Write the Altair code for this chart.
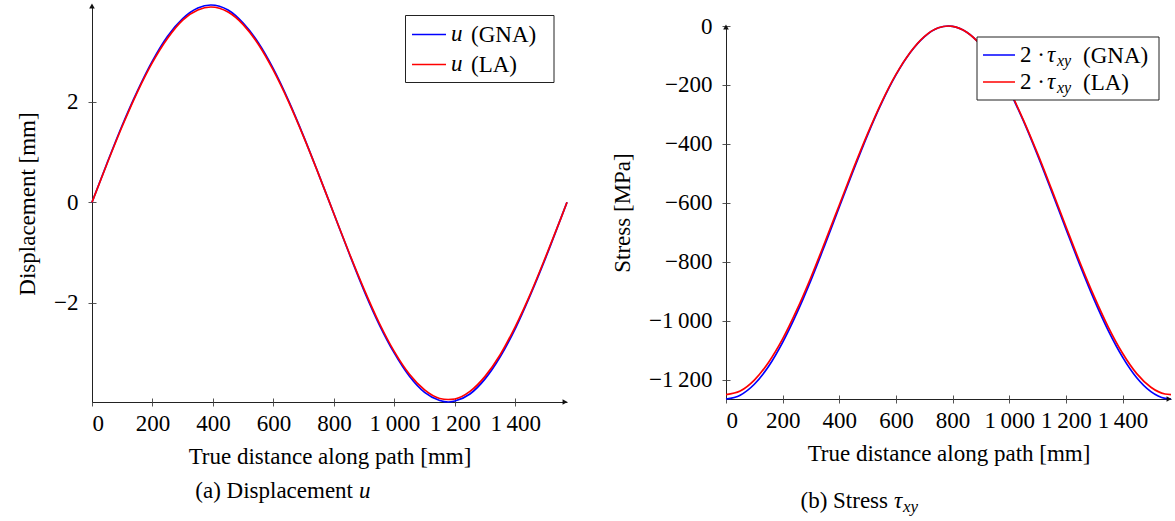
import altair as alt
import pandas as pd

# ---------------------------------------------------------------------------
# Data: displacement u and shear stress 2*tau_xy along the path
# ---------------------------------------------------------------------------
u_dist = [0, 50, 100, 150, 200, 250, 300, 350, 393, 450, 500, 550, 600, 650,
          700, 750, 800, 850, 900, 950, 1000, 1050, 1100, 1150, 1178, 1200,
          1250, 1300, 1350, 1400, 1450, 1500, 1550, 1571]
u_gna = [0.00, 0.78, 1.53, 2.21, 2.81, 3.30, 3.65, 3.86, 3.92, 3.82, 3.56,
         3.17, 2.65, 2.02, 1.31, 0.55, -0.23, -1.01, -1.76, -2.43, -3.00,
         -3.46, -3.78, -3.94, -3.97, -3.95, -3.81, -3.51, -3.07, -2.51,
         -1.84, -1.11, -0.33, 0.00]
u_la = [0.00, 0.77, 1.51, 2.19, 2.78, 3.26, 3.62, 3.82, 3.88, 3.78, 3.53,
        3.14, 2.62, 2.00, 1.30, 0.55, -0.23, -1.00, -1.73, -2.40, -2.97,
        -3.42, -3.73, -3.90, -3.92, -3.91, -3.76, -3.46, -3.03, -2.47,
        -1.82, -1.09, -0.33, 0.00]

tau_dist = [0, 50, 100, 150, 200, 250, 300, 350, 400, 450, 500, 550, 600,
            650, 700, 750, 785, 800, 850, 900, 950, 1000, 1050, 1100, 1150,
            1200, 1250, 1300, 1350, 1400, 1450, 1500, 1550, 1571]
tau_gna = [-1265, -1252, -1215, -1155, -1073, -974, -862, -740, -614, -489,
           -369, -260, -166, -91, -37, -6, 0, -1, -21, -65, -132, -219, -322,
           -438, -562, -688, -812, -929, -1034, -1123, -1193, -1240, -1263,
           -1265]
tau_la = [-1250, -1238, -1201, -1141, -1061, -963, -852, -731, -607, -483,
          -365, -257, -164, -90, -36, -6, 0, -1, -21, -65, -131, -216, -319,
          -433, -555, -680, -803, -918, -1022, -1110, -1179, -1225, -1248,
          -1250]

x_ticks = [0, 200, 400, 600, 800, 1000, 1200, 1400]
u_ticks = [-2, 0, 2]
tau_ticks = [0, -200, -400, -600, -800, -1000, -1200]

BLUE = "#0000ff"
RED = "#ff0000"
SERIF = "Liberation Serif"
FS = 23
AXIS_COLOR = "#222222"
TICK_COLOR = "#555555"
LABEL_EXPR = "replace(format(datum.value, ','), ',', '\u2009')"

# panel geometry (plot areas)
W1, H1 = 475, 397
W2 = 445
R_TOP, R_BOT = 21, 394   # vertical extent of the stress axis inside its panel

one = pd.DataFrame({"k": [0]})


def frame(df_x, df_y):
    return pd.DataFrame({"dist": df_x, "val": df_y})


def main_x_axis(title, offset=0):
    return alt.Axis(values=x_ticks, title=title, labelExpr=LABEL_EXPR,
                    tickSize=4, labelPadding=6, titlePadding=10,
                    offset=offset, grid=False)


def main_y_axis(values, title):
    return alt.Axis(values=values, title=title, labelExpr=LABEL_EXPR,
                    tickSize=4, labelPadding=10, titlePadding=14, grid=False)


def inner_x_axis(pos):
    # second set of ticks pointing into the plot, so ticks cross the axis line
    return alt.Axis(orient="top", offset=-pos, values=x_ticks, labels=False,
                    domain=False, title=None, tickSize=4, grid=False)


def inner_y_axis(values, width):
    return alt.Axis(orient="right", offset=-width, values=values, labels=False,
                    domain=False, title=None, tickSize=4, grid=False)


def text(label, x, y, size=FS, style="normal", align="left"):
    return alt.Chart(one).mark_text(
        text=label, font=SERIF, fontSize=size, fontStyle=style, align=align,
        baseline="alphabetic", color="black"
    ).encode(x=alt.value(x), y=alt.value(y))


def rule(x, x2, y, y2, color, width=1.0):
    return alt.Chart(one).mark_rule(color=color, strokeWidth=width).encode(
        x=alt.value(x), x2=alt.value(x2), y=alt.value(y), y2=alt.value(y2))


def arrow(shape, x, y):
    return alt.Chart(one).mark_point(
        shape=shape, filled=True, color="#111111", size=32, opacity=1
    ).encode(x=alt.value(x), y=alt.value(y))


def box(x, x2, y, y2):
    return alt.Chart(one).mark_rect(
        fill="white", stroke="#222222", strokeWidth=1
    ).encode(x=alt.value(x), x2=alt.value(x2), y=alt.value(y), y2=alt.value(y2))


def spacer(x, x2, y, y2):
    return alt.Chart(one).mark_rect(opacity=0).encode(
        x=alt.value(x), x2=alt.value(x2), y=alt.value(y), y2=alt.value(y2))


# ---------------------------------------------------------------------------
# (a) Displacement u
# ---------------------------------------------------------------------------
xs1 = alt.Scale(domain=[0, 1571], nice=False, zero=False)
ys1 = alt.Scale(domain=[-3.97, 3.92], nice=False, zero=False)

u_gna_line = alt.Chart(frame(u_dist, u_gna)).mark_line(
    color=BLUE, strokeWidth=1.7, interpolate="monotone"
).encode(
    x=alt.X("dist:Q", scale=xs1, axis=main_x_axis("True distance along path [mm]")),
    y=alt.Y("val:Q", scale=ys1, axis=main_y_axis(u_ticks, "Displacement [mm]")),
)
u_la_line = alt.Chart(frame(u_dist, u_la)).mark_line(
    color=RED, strokeWidth=1.7, interpolate="monotone"
).encode(
    x=alt.X("dist:Q", scale=xs1, axis=inner_x_axis(H1)),
    y=alt.Y("val:Q", scale=ys1, axis=inner_y_axis(u_ticks, W1)),
)

# legend of panel (a)
lg1 = [
    box(313.5, 462, 10.5, 77.5),
    rule(320, 354, 29.5, 29.5, BLUE, 1.5),
    rule(320, 354, 59.5, 59.5, RED, 1.5),
    text("u", 359, 36, style="italic"),
    text("(GNA)", 379, 37),
    text("u", 359, 66, style="italic"),
    text("(LA)", 379, 67),
]

panel_a = alt.layer(
    spacer(-92, -91, -5, 516),
    u_gna_line, u_la_line,
    arrow("triangle-up", 0, 1),
    arrow("triangle-right", W1 - 2, H1),
    *lg1,
    text("(a) Displacement", 261, 493, align="right"),
    text("u", 267, 493, style="italic"),
).resolve_axis(x="independent", y="independent").properties(width=W1, height=H1)

# ---------------------------------------------------------------------------
# (b) Stress tau_xy
# ---------------------------------------------------------------------------
xs2 = alt.Scale(domain=[0, 1571], nice=False, zero=False)
ys2 = alt.Scale(domain=[-1265, 0], nice=False, zero=False, range=[R_BOT, R_TOP])

tau_gna_line = alt.Chart(frame(tau_dist, tau_gna)).mark_line(
    color=BLUE, strokeWidth=1.7, interpolate="monotone"
).encode(
    x=alt.X("dist:Q", scale=xs2,
            axis=main_x_axis("True distance along path [mm]", offset=R_BOT - H1)),
    y=alt.Y("val:Q", scale=ys2, axis=main_y_axis(tau_ticks, "Stress [MPa]")),
)
tau_la_line = alt.Chart(frame(tau_dist, tau_la)).mark_line(
    color=RED, strokeWidth=1.7, interpolate="monotone"
).encode(
    x=alt.X("dist:Q", scale=xs2, axis=inner_x_axis(R_BOT)),
    y=alt.Y("val:Q", scale=ys2, axis=inner_y_axis(tau_ticks, W2)),
)

# legend of panel (b): 2 · τ_xy
lg2 = [box(251, 433, 32, 95)]
for row_y, color, tag in [(50, BLUE, "(GNA)"), (77, RED, "(LA)")]:
    lg2 += [
        rule(257, 289, row_y, row_y, color, 1.5),
        text("2 \u00b7", 294, row_y + 7),
        text("\u03c4", 321, row_y + 7, style="italic"),
        text("xy", 331, row_y + 11, size=16, style="italic"),
        text(tag, 357, row_y + 8),
    ]

panel_b = alt.layer(
    tau_gna_line, tau_la_line,
    arrow("triangle-up", 0, R_TOP + 1),
    arrow("triangle-right", W2 - 2, R_BOT),
    *lg2,
    text("(b) Stress", 162, 503, align="right"),
    text("\u03c4", 168, 503, style="italic"),
    text("xy", 177, 507, size=17, style="italic"),
    spacer(W2 + 3, W2 + 4, 0, 1),
).resolve_axis(x="independent", y="independent").properties(width=W2, height=H1)

chart = alt.hconcat(panel_a, panel_b, spacing=159, bounds="flush").configure(
    padding={"left": 0, "top": 0, "right": 0, "bottom": 0},
    background="white",
).configure_view(stroke=None).configure_axis(
    labelFont=SERIF, labelFontSize=FS, labelColor="black",
    titleFont=SERIF, titleFontSize=FS, titleColor="black", titleFontWeight="normal",
    domainColor=AXIS_COLOR, domainWidth=1, tickColor=TICK_COLOR, tickWidth=1,
)

chart.save("out.html", embed_options={"renderer": "svg", "actions": False})
